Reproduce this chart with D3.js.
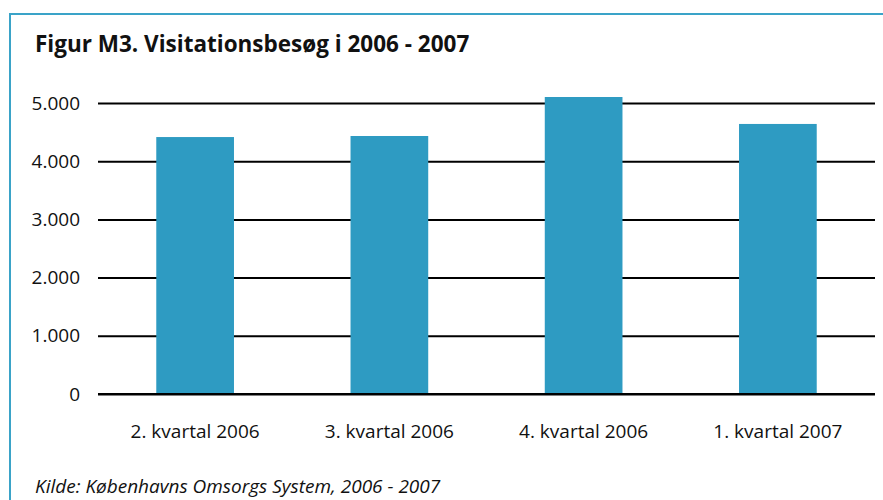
<!DOCTYPE html>
<html>
<head>
<meta charset="utf-8">
<script src="https://cdn.jsdelivr.net/npm/d3@7"></script>
<style>
  body { margin: 0; background: #fff; }
  svg { display: block; font-family: "Open Sans", Lato, sans-serif; }
</style>
</head>
<body>
<svg id="chart" width="883" height="500"></svg>
<script>
// data
const quarters = ['2. kvartal 2006', '3. kvartal 2006', '4. kvartal 2006', '1. kvartal 2007'];
const visits = [4415, 4433, 5103, 4640];
const yTicks = [0, 1000, 2000, 3000, 4000, 5000];

const title = 'Figur M3. Visitationsbesøg i 2006 - 2007';
const source = 'Kilde: Københavns Omsorgs System, 2006 - 2007';

const svg = d3.select('#chart');
const width = 883;
const margin = { top: 103, right: 8, bottom: 106, left: 98 };
const plotBottom = 394;
const font = '"Open Sans", Lato, sans-serif';

// frame (right and bottom edges run off the picture)
svg.append('path')
  .attr('d', `M10,${width + 10}V14H${width + 10}`)
  .attr('fill', 'none')
  .attr('stroke', '#3aa3c8')
  .attr('stroke-width', 2);

svg.append('text')
  .attr('x', 35)
  .attr('y', 52)
  .attr('font-size', 22.5)
  .attr('font-weight', 'bold')
  .attr('fill', '#111')
  .text(title);

const x = d3.scaleBand()
  .domain(quarters)
  .range([margin.left, width - margin.right])
  .paddingInner(0.6)
  .paddingOuter(0.3);

const y = d3.scaleLinear()
  .domain([0, 5000])
  .range([plotBottom, margin.top]);

const fmt = d => d3.format(',')(d).replace(/,/g, '.');

// gridlines
svg.append('g')
  .attr('transform', `translate(${margin.left},0)`)
  .call(d3.axisLeft(y).tickValues(yTicks).tickSize(-(width - margin.right - margin.left)).tickFormat(fmt).tickPadding(18))
  .call(g => g.select('.domain').remove())
  .call(g => g.selectAll('.tick line').attr('stroke', '#000').attr('stroke-width', 2))
  .call(g => g.selectAll('.tick text').attr('font-size', 19).attr('fill', '#111').attr('font-family', font));

svg.append('g')
  .selectAll('rect')
  .data(visits)
  .join('rect')
  .attr('x', (d, i) => x(quarters[i]))
  .attr('y', d => y(d))
  .attr('width', x.bandwidth())
  .attr('height', d => y(0) - y(d))
  .attr('fill', '#2e9bc2');

// baseline drawn over bars
svg.append('line')
  .attr('x1', margin.left)
  .attr('x2', width - margin.right)
  .attr('y1', y(0))
  .attr('y2', y(0))
  .attr('stroke', '#000')
  .attr('stroke-width', 2);

svg.append('g')
  .attr('transform', `translate(0,${plotBottom})`)
  .call(d3.axisBottom(x).tickSize(0).tickPadding(31))
  .call(g => g.select('.domain').remove())
  .call(g => g.selectAll('.tick text').attr('font-size', 19).attr('fill', '#111').attr('font-family', font));

svg.append('text')
  .attr('x', 35)
  .attr('y', 493)
  .attr('font-size', 19)
  .attr('font-style', 'italic')
  .attr('fill', '#111')
  .text(source);
</script>
</body>
</html>
